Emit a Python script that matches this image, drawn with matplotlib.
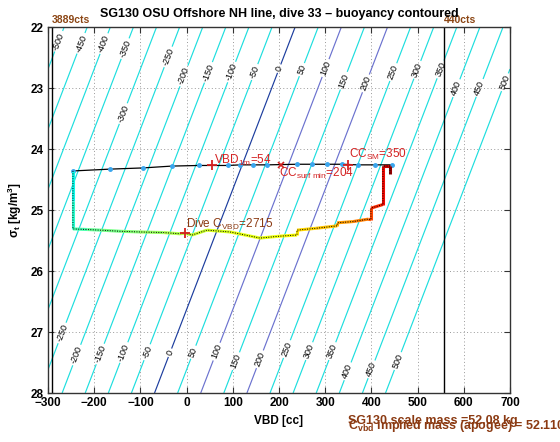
import numpy as np
import matplotlib
matplotlib.use('Agg')
import matplotlib.pyplot as plt
from matplotlib.collections import LineCollection

plt.rcParams['font.family'] = ['Liberation Sans', 'DejaVu Sans']
plt.rcParams['mathtext.fontset'] = 'custom'
plt.rcParams['mathtext.rm'] = 'Liberation Sans'
plt.rcParams['mathtext.it'] = 'Liberation Sans:italic'
plt.rcParams['mathtext.bf'] = 'Liberation Sans:bold'

# ---------------- data ----------------
scale_mass_g = 52080.0
hull_volume_cc = 50729.0
contour_levels = list(range(-500, 501, 50))

x_ticks = [-300, -200, -100, 0, 100, 200, 300, 400, 500, 600, 700]
y_ticks = [22, 23, 24, 25, 26, 27, 28]

# dive (colored) path: VBD [cc], sigma_t, relative time (0..1)
dive_vbd = [-246, -246, -246, -215, -187, -140, -101, -50, -14, -4, 12, 44, 94, 159, 200,
            239, 239, 280, 326, 326, 360, 393, 399, 399, 425, 425, 440, 440]
dive_sigma = [24.36, 24.85, 25.31, 25.32, 25.33, 25.35, 25.36, 25.37, 25.39, 25.38, 25.41,
              25.33, 25.36, 25.46, 25.43, 25.41, 25.33, 25.30, 25.26, 25.21, 25.19, 25.15,
              25.16, 24.97, 24.91, 24.28, 24.28, 24.41]
dive_time = [0.36, 0.38, 0.42, 0.46, 0.48, 0.50, 0.52, 0.55, 0.57, 0.58, 0.59, 0.60, 0.62,
             0.63, 0.64, 0.65, 0.67, 0.69, 0.71, 0.73, 0.76, 0.79, 0.82, 0.85, 0.88, 0.92,
             0.96, 1.0]

# climb (black) path
climb_vbd = [-246, -166, -94, -32, 27, 90, 116, 144, 174, 239, 271, 304, 337, 371, 408, 445]
climb_sigma = [24.36, 24.33, 24.31, 24.28, 24.27, 24.27, 24.26, 24.26, 24.26, 24.25,
               24.25, 24.25, 24.25, 24.26, 24.26, 24.26]

vbd_1m = 54
cc_surf_min = 204
cc_sm = 350
dive_c_vbd = 2715
left_cts_vbd, left_cts = -291, 3889
right_cts_vbd, right_cts = 557, 440

# ---------------- figure ----------------
fig = plt.figure(figsize=(5.6, 4.42), dpi=100)
ax = fig.add_axes([48 / 560, 1 - 393 / 442, 462 / 560, 366 / 442])
ax.set_xlim(-300, 700)
ax.set_ylim(28, 22)

vv, ss = np.meshgrid(np.linspace(-300, 700, 401), np.linspace(22, 28, 241))
buoy = (1000.0 + ss) / 1000.0 * hull_volume_cc + vv - scale_mass_g

def lev_color(l):
    if l == 0:
        return '#1c3d9e'
    if l in (100, 200):
        return '#6b72cf'
    return '#1edede'

cs = ax.contour(vv, ss, buoy, levels=contour_levels,
                colors=[lev_color(l) for l in contour_levels], linewidths=0.85)

label_pos = [(-285, 22.21), (-231, 22.26), (-183, 22.26), (-138, 22.34), (-140, 23.41),
             (-40, 22.49), (-10, 22.79), (46, 22.74), (98, 22.74), (148, 22.74),
             (196, 22.67), (250, 22.70), (300, 22.67), (347, 22.90), (390, 22.93),
             (451, 22.75), (499, 22.70), (551, 22.70), (583, 23.0), (635, 23.0),
             (694, 22.92),
             (-268, 27.02), (-237, 27.38), (-187, 27.36), (-138, 27.33), (-86, 27.33),
             (-36, 27.34), (14, 27.33), (68, 27.33), (111, 27.49), (163, 27.46),
             (224, 27.30), (271, 27.33), (321, 27.33), (354, 27.66), (403, 27.62),
             (462, 27.49)]
ax.clabel(cs, fontsize=6.5, inline=True, manual=label_pos, fmt='%d', colors='k',
          inline_spacing=2)

ax.grid(True, color='#999999', linestyle=(0, (1, 2.5)), linewidth=0.7)
ax.set_axisbelow(True)

# vertical count lines
ax.axvline(left_cts_vbd, color='k', lw=1.0)
ax.axvline(right_cts_vbd, color='k', lw=1.0)
ax.text(left_cts_vbd, 21.96, f'{left_cts}cts', color='#8b4513', fontsize=7.5,
        fontweight='bold', ha='left', va='bottom')
ax.text(right_cts_vbd, 21.96, f'{right_cts}cts', color='#8b4513', fontsize=7.5,
        fontweight='bold', ha='left', va='bottom')

# climb line
ax.plot(climb_vbd, climb_sigma, color='k', lw=0.9, marker='o', ms=2.5,
        mfc='#3aa6ee', mec='#3aa6ee', zorder=5)

# dive line colored
pts = np.column_stack([dive_vbd, dive_sigma])
segs = np.stack([pts[:-1], pts[1:]], axis=1)
tvals = np.array(dive_time)
lc = LineCollection(segs, cmap='jet', linewidths=2.2, zorder=6)
lc.set_array(0.5 * (tvals[:-1] + tvals[1:]))
lc.set_clim(0, 1)
ax.add_collection(lc)
ax.plot(dive_vbd, dive_sigma, color='k', lw=0.7, ls=(0, (1, 1.5)), zorder=7)

red = '#d42222'
ax.plot([vbd_1m], [24.27], marker='+', color=red, ms=7, mew=1.3, zorder=8)
ax.plot([cc_surf_min], [24.26], marker='x', color=red, ms=5, mew=1.2, zorder=8)
ax.plot([cc_sm], [24.26], marker='+', color=red, ms=7, mew=1.3, zorder=8)
ax.plot([-4], [25.38], marker='+', color=red, ms=7, mew=1.3, zorder=8)

ax.text(vbd_1m + 6, 24.25, r'VBD$_{\mathrm{1m}}$=' + str(vbd_1m), color=red, fontsize=8.5,
        ha='left', va='baseline', zorder=9)
ax.text(cc_surf_min - 4, 24.45, r'CC$_{\mathrm{surf\ min}}$=' + str(cc_surf_min), color=red,
        fontsize=8.5, ha='left', va='baseline', zorder=9)
ax.text(cc_sm + 2, 24.15, r'CC$_{\mathrm{SM}}$=' + str(cc_sm), color=red, fontsize=8.5,
        ha='left', va='baseline', zorder=9)
ax.text(-1, 25.30, r'Dive C$_{\mathrm{VBD}}$=' + str(dive_c_vbd), color='#8b3a12',
        fontsize=8.5, ha='left', va='baseline', zorder=9)

ax.set_xticks(x_ticks)
ax.set_yticks(y_ticks)
ax.tick_params(direction='in', top=True, right=True, length=4, width=0.8,
               labelsize=8.5, pad=3, color='#333333')
for lab in ax.get_xticklabels() + ax.get_yticklabels():
    lab.set_fontweight('bold')
for sp in ax.spines.values():
    sp.set_color('#333333')
    sp.set_linewidth(1.0)

ax.set_title('SG130 OSU Offshore NH line, dive 33 \u2013 buoyancy contoured',
             fontsize=9, fontweight='bold', pad=7)
ax.set_xlabel('VBD [cc]', fontsize=8.5, fontweight='bold', labelpad=4)
ax.set_ylabel(r'σ$_{\mathbf{t}}$ [kg/m$^{\mathbf{3}}$]', fontsize=8.5, fontweight='bold',
              labelpad=5)

fig.text(348 / 560, 1 - 424 / 442, 'SG130 scale mass =52.08 kg', color='#8b3a12',
         fontsize=9, fontweight='bold', ha='left', va='baseline')
fig.text(348 / 560, 1 - 429 / 442,
         r'C$_{\mathbf{vbd}}$ implied mass (apogee) = 52.110', color='#8b3a12',
         fontsize=9, fontweight='bold', ha='left', va='baseline')

fig.savefig('out.png', dpi=100)
